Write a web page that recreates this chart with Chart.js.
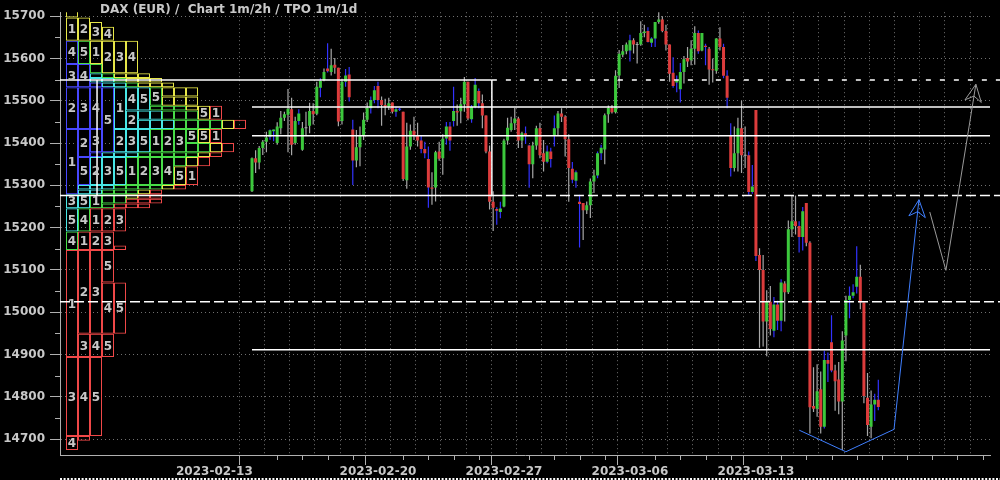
<!DOCTYPE html>
<html>
<head>
<meta charset="utf-8">
<script src="https://cdn.jsdelivr.net/npm/chart.js@4.4.0/dist/chart.umd.min.js"></script>
<style>
  html, body { margin: 0; padding: 0; background: #000; }
  #wrap { width: 1000px; height: 480px; }
</style>
</head>
<body>
<div id="wrap"><canvas id="chart" width="1000" height="480"></canvas></div>
<script>
// DATA
const tradingDays = [
  "2023-02-13", "2023-02-14", "2023-02-15", "2023-02-16", "2023-02-17",
  "2023-02-20", "2023-02-21", "2023-02-22", "2023-02-23", "2023-02-24",
  "2023-02-27", "2023-02-28", "2023-03-01", "2023-03-02", "2023-03-03",
  "2023-03-06", "2023-03-07", "2023-03-08", "2023-03-09", "2023-03-10",
  "2023-03-13", "2023-03-14", "2023-03-15", "2023-03-16", "2023-03-17"
];
const slotsPerDay = 7; // 2h candles, 08:00 - 22:00

const opens = [
  15286, 15364, 15354, 15388, 15403, 15415, 15428,
  15400, 15435, 15460, 15467, 15480, 15400, 15452,
  15384, 15435, 15441, 15476, 15469, 15531, 15549,
  15576, 15568, 15585, 15578, 15452, 15545, 15562,
  15432, 15359, 15390, 15419, 15455, 15482, 15502,
  15535, 15502, 15490, 15486, 15496, 15474, 15480,
  15474, 15312, 15392, 15429, 15419, 15406, 15386,
  15362, 15295, 15295, 15380, 15364, 15411, 15439,
  15452, 15476, 15475, 15492, 15545, 15456, 15486,
  15523, 15494, 15465, 15380, 15261, 15244, 15237,
  15250, 15406, 15431, 15447, 15458, 15406, 15423,
  15394, 15350, 15394, 15435, 15376, 15356, 15380,
  15418, 15435, 15470, 15462, 15409, 15339, 15311,
  15261, 15258, 15241, 15253, 15309, 15323, 15376,
  15385, 15468, 15483, 15473, 15560, 15609, 15617,
  15619, 15643, 15633, 15633, 15660, 15665, 15637,
  15647, 15686, 15692, 15665, 15633, 15566, 15543,
  15527, 15568, 15601, 15596, 15623, 15660, 15619,
  15630, 15623, 15574, 15571, 15647, 15627, 15559,
  15419, 15341, 15376, 15435, 15371, 15371, 15284,
  15478, 15135, 15100, 14978, 15025, 14956, 15018,
  14980, 15068, 15047, 15196, 15215, 15204, 15178,
  15258, 15164, 14778, 14772, 14818, 14729, 14887,
  14929, 14862, 14841, 14789, 14945, 15029, 15039,
  15060, 15084, 15023, 14798, 14729, 14782, 14793
];
const highs = [
  15366, 15383, 15393, 15407, 15427, 15432, 15432,
  15449, 15476, 15474, 15528, 15507, 15462, 15480,
  15450, 15474, 15495, 15494, 15545, 15553, 15576,
  15636, 15623, 15601, 15578, 15552, 15575, 15580,
  15455, 15431, 15439, 15472, 15496, 15510, 15535,
  15545, 15510, 15505, 15507, 15496, 15486, 15483,
  15474, 15448, 15444, 15462, 15448, 15419, 15403,
  15392, 15331, 15382, 15403, 15421, 15450, 15450,
  15533, 15491, 15507, 15556, 15545, 15490, 15554,
  15529, 15515, 15465, 15394, 15286, 15248, 15261,
  15410, 15460, 15462, 15483, 15462, 15427, 15439,
  15396, 15403, 15441, 15448, 15407, 15394, 15389,
  15465, 15476, 15482, 15466, 15421, 15355, 15335,
  15278, 15258, 15262, 15316, 15337, 15380, 15396,
  15470, 15489, 15490, 15572, 15620, 15632, 15638,
  15656, 15648, 15639, 15688, 15680, 15674, 15650,
  15686, 15711, 15700, 15680, 15633, 15603, 15560,
  15589, 15606, 15627, 15643, 15676, 15666, 15660,
  15635, 15627, 15600, 15648, 15674, 15635, 15572,
  15447, 15439, 15460, 15500, 15439, 15380, 15348,
  15478, 15151, 15135, 15052, 15062, 15036, 15027,
  15078, 15073, 15217, 15276, 15276, 15215, 15249,
  15258, 15168, 14870, 14877, 14860, 14909, 14905,
  14993, 14876, 14882, 14955, 15039, 15061, 15066,
  15156, 15112, 15023, 14856, 14815, 14807, 14840
];
const lows = [
  15284, 15329, 15338, 15372, 15378, 15408, 15404,
  15396, 15421, 15452, 15378, 15371, 15396, 15443,
  15382, 15419, 15423, 15444, 15466, 15508, 15546,
  15567, 15560, 15564, 15440, 15444, 15533, 15498,
  15301, 15343, 15345, 15407, 15450, 15470, 15494,
  15482, 15441, 15466, 15478, 15470, 15462, 15476,
  15310, 15292, 15384, 15407, 15392, 15376, 15364,
  15247, 15254, 15262, 15358, 15325, 15396, 15382,
  15439, 15441, 15447, 15474, 15454, 15448, 15482,
  15482, 15435, 15376, 15243, 15192, 15207, 15222,
  15248, 15396, 15427, 15431, 15388, 15388, 15398,
  15294, 15317, 15384, 15364, 15333, 15352, 15342,
  15392, 15419, 15450, 15368, 15261, 15305, 15294,
  15153, 15171, 15232, 15223, 15282, 15317, 15360,
  15350, 15448, 15470, 15470, 15530, 15603, 15610,
  15593, 15612, 15588, 15630, 15650, 15638, 15627,
  15627, 15682, 15662, 15619, 15545, 15531, 15520,
  15496, 15541, 15580, 15584, 15585, 15611, 15617,
  15584, 15538, 15543, 15564, 15619, 15553, 15482,
  15321, 15333, 15333, 15329, 15341, 15278, 15280,
  15121, 14916, 14919, 14896, 14945, 14941, 14958,
  14955, 14978, 15043, 15178, 15184, 15141, 15146,
  15156, 14713, 14764, 14753, 14713, 14725, 14835,
  14858, 14767, 14759, 14674, 14884, 14986, 15033,
  15044, 15007, 14785, 14707, 14702, 14743, 14768
];
const closes = [
  15364, 15354, 15388, 15403, 15413, 15430, 15432,
  15439, 15460, 15468, 15481, 15396, 15452, 15470,
  15435, 15435, 15476, 15468, 15533, 15547, 15568,
  15570, 15584, 15578, 15451, 15545, 15560, 15508,
  15359, 15390, 15419, 15455, 15483, 15502, 15525,
  15502, 15490, 15486, 15494, 15474, 15480, 15479,
  15315, 15392, 15429, 15419, 15406, 15386, 15376,
  15295, 15292, 15378, 15363, 15410, 15439, 15406,
  15476, 15472, 15492, 15545, 15458, 15486, 15538,
  15494, 15465, 15380, 15261, 15247, 15240, 15245,
  15406, 15436, 15447, 15458, 15406, 15423, 15418,
  15350, 15394, 15435, 15371, 15356, 15380, 15362,
  15435, 15470, 15462, 15409, 15341, 15313, 15331,
  15256, 15241, 15253, 15309, 15323, 15376, 15389,
  15466, 15483, 15473, 15559, 15611, 15617, 15633,
  15643, 15633, 15632, 15660, 15664, 15639, 15647,
  15686, 15692, 15665, 15633, 15564, 15535, 15549,
  15568, 15598, 15593, 15623, 15660, 15617, 15660,
  15627, 15574, 15572, 15647, 15627, 15559, 15507,
  15341, 15376, 15435, 15371, 15370, 15284, 15297,
  15133, 15100, 14978, 15025, 14960, 15018, 14980,
  15070, 15047, 15196, 15215, 15204, 15178, 15239,
  15164, 14775, 14772, 14813, 14729, 14887, 14878,
  14862, 14837, 14789, 14933, 15029, 15039, 15047,
  15084, 15023, 14802, 14733, 14782, 14793, 14776
];
// candles whose wick is drawn blue (pre/after hours sessions)
const blueWicks = [5, 6, 13, 19, 21, 26, 27, 28, 33, 34, 35, 40, 41, 47, 48, 49, 54, 55, 56,
  61, 62, 63, 68, 69, 76, 77, 82, 83, 84, 89, 90, 91, 96, 97, 105, 110, 111, 112, 117, 118,
  119, 124, 126, 131, 132, 133, 138, 139, 140, 145, 146, 147, 152, 153, 159, 160, 161, 166,
  167, 168, 173, 174];

const yTicks = [14700, 14800, 14900, 15000, 15100, 15200, 15300, 15400, 15500, 15600, 15700];

// value area box and other price levels
const vaHigh = 15549;
const vaLow = 15276;
const vaDays = [-6.15, 9.52, 10]; // box left, box right, low line end
const levelsFromStart = [15485, 15417, 14911];
const levelMid = 15025;

// projection paths [day, price]
const bluePath = [[21.72, 14721], [23.57, 14670], [25.48, 14723], [26.47, 15266]];
const grayPath = [[26.90, 15237], [27.54, 15099], [28.73, 15539]];

// SCALES
const X_MIN = -7.62, X_MAX = 29.29, X_EDGE = 29.7;
const Y_MIN = 14662.35, Y_MAX = 15709.4;
const TPO_STEP = 11;

const GREEN = "#3cc83c", RED = "#dc3c3c";
const WICK_GRAY = "#a8a8a8", WICK_BLUE = "#3232ff";
const WEEK_COLORS = ["#4848ff", "#48e6e6", "#48dc48", "#e6e648", "#f04848"];
const AXIS = "#b0b0b0", TEXT = "#c8c8c8";

const candleX = opens.map((_, i) => Math.floor(i / slotsPerDay) + (i % slotsPerDay) / slotsPerDay);
const wickColor = i => blueWicks.includes(i) ? WICK_BLUE : WICK_GRAY;

// TPO profile built from daily ranges
const dayHigh = tradingDays.map((_, d) => Math.max(...highs.slice(d * slotsPerDay, (d + 1) * slotsPerDay)));
const dayLow = tradingDays.map((_, d) => Math.min(...lows.slice(d * slotsPerDay, (d + 1) * slotsPerDay)));
const tpoRuns = [];
(function buildTpo() {
  const bMin = Math.floor(Math.min(...dayLow) / TPO_STEP);
  const bMax = Math.floor(Math.max(...dayHigh) / TPO_STEP);
  let open = {};
  for (let b = bMin; b <= bMax; b++) {
    const lo = b * TPO_STEP, hi = lo + TPO_STEP;
    const next = {};
    let col = 0;
    for (let d = 0; d < tradingDays.length; d++) {
      if (dayLow[d] >= hi || dayHigh[d] < lo) continue;
      const prev = open[col];
      if (prev && prev.day === d) {
        prev.y[1] = hi;
        prev.n++;
        next[col] = prev;
      } else {
        const run = { x: col + 0.5, y: [lo, hi], day: d, n: 1 };
        tpoRuns.push(run);
        next[col] = run;
      }
      col++;
    }
    open = next;
  }
})();

const line = (pts, color, dash, order) => ({
  type: "line",
  data: pts.map(p => ({ x: p[0], y: p[1] })),
  borderColor: color,
  borderWidth: 1.5,
  borderDash: dash || [],
  pointRadius: 0,
  fill: false,
  tension: 0,
  clip: false,
  order: order === undefined ? 1 : order
});

const levelSets = [
  line([[X_MIN, vaHigh], [vaDays[1], vaHigh]], "#ffffff"),
  line([[vaDays[1], vaHigh], [X_EDGE, vaHigh]], "#ffffff", [5, 9]),
  line([[X_MIN, vaLow], [vaDays[2], vaLow]], "#ffffff"),
  line([[vaDays[2], vaLow], [X_EDGE, vaLow]], "#ffffff", [10, 4]),
  line([[vaDays[0], vaLow], [vaDays[0], vaHigh]], "#ffffff"),
  line([[vaDays[1], vaLow], [vaDays[1], vaHigh]], "#ffffff"),
  line([[X_MIN, levelMid], [X_EDGE, levelMid]], "#ffffff", [10, 4])
].concat(levelsFromStart.map(v => line([[0, v], [X_MAX, v]], "#ffffff")));

const blueSet = line(bluePath, "#3f7fff", null, 0);
blueSet.borderWidth = 1;
blueSet.arrowHead = true;
const graySet = line(grayPath, "#9a9a9a", null, 0);
graySet.borderWidth = 1;
graySet.arrowHead = true;

// PLUGINS
const titlePlugin = {
  id: "title",
  afterDraw(chart) {
    const { ctx, chartArea, width } = chart;
    ctx.save();
    ctx.font = "bold 12px 'DejaVu Sans'";
    ctx.fillStyle = TEXT;
    ctx.textBaseline = "middle";
    ctx.fillText("DAX (EUR) /  Chart 1m/2h / TPO 1m/1d", 100, 10);
    // dotted strip along the bottom edge
    ctx.strokeStyle = "#ffffff";
    ctx.lineWidth = 2;
    ctx.setLineDash([2, 1.6]);
    ctx.beginPath();
    ctx.moveTo(chartArea.left, chart.height - 1);
    ctx.lineTo(width, chart.height - 1);
    ctx.stroke();
    ctx.restore();
  }
};

const tpoLabels = {
  id: "tpoLabels",
  afterDatasetsDraw(chart) {
    const { ctx, scales: { xp, y } } = chart;
    ctx.save();
    ctx.font = "bold 12px 'DejaVu Sans'";
    ctx.fillStyle = TEXT;
    ctx.textAlign = "center";
    ctx.textBaseline = "middle";
    tpoRuns.forEach(r => {
      if (r.n < 3) return;
      ctx.fillText(String(r.day % 5 + 1), xp.getPixelForValue(r.x), y.getPixelForValue((r.y[0] + r.y[1]) / 2) + 1);
    });
    ctx.restore();
  }
};

const minorTicks = {
  id: "minorTicks",
  afterDraw(chart) {
    const { ctx, chartArea, scales: { x, y } } = chart;
    ctx.save();
    ctx.strokeStyle = AXIS;
    ctx.lineWidth = 1;
    ctx.beginPath();
    yTicks.slice(0, -1).forEach(v => {
      const py = Math.round(y.getPixelForValue(v + 50)) + 0.5;
      ctx.moveTo(chartArea.left - 5, py);
      ctx.lineTo(chartArea.left, py);
    });
    x.ticks.forEach(t => {
      if (t.value % 5 === 0 && t.value < tradingDays.length) return;
      const px = Math.round(x.getPixelForValue(t.value)) + 0.5;
      ctx.moveTo(px, chartArea.bottom);
      ctx.lineTo(px, chartArea.bottom + 5);
    });
    ctx.stroke();
    ctx.restore();
  }
};

const arrowHeads = {
  id: "arrowHeads",
  afterDatasetsDraw(chart) {
    const ctx = chart.ctx;
    chart.data.datasets.forEach((ds, i) => {
      if (!ds.arrowHead) return;
      const pts = chart.getDatasetMeta(i).data;
      const tip = pts[pts.length - 1], from = pts[pts.length - 2];
      const ang = Math.atan2(tip.y - from.y, tip.x - from.x);
      const len = 19, spread = 0.45, notch = 12;
      ctx.save();
      ctx.strokeStyle = ds.borderColor;
      ctx.lineWidth = 1;
      ctx.beginPath();
      ctx.moveTo(tip.x - len * Math.cos(ang - spread), tip.y - len * Math.sin(ang - spread));
      ctx.lineTo(tip.x, tip.y);
      ctx.lineTo(tip.x - len * Math.cos(ang + spread), tip.y - len * Math.sin(ang + spread));
      ctx.lineTo(tip.x - notch * Math.cos(ang), tip.y - notch * Math.sin(ang));
      ctx.closePath();
      ctx.stroke();
      ctx.restore();
    });
  }
};

Chart.defaults.font.family = "'DejaVu Sans'";
Chart.defaults.font.weight = "bold";
Chart.defaults.font.size = 12;
Chart.defaults.color = TEXT;

const isLabelTick = v => v % 5 === 0 && v >= 0 && v < tradingDays.length;

new Chart(document.getElementById("chart"), {
  type: "bar",
  data: {
    datasets: [
      {
        label: "TPO",
        xAxisID: "xp",
        data: tpoRuns,
        backgroundColor: "rgba(0,0,0,0)",
        borderColor: c => c.raw ? WEEK_COLORS[Math.floor(c.raw.day / 5)] : WEEK_COLORS[0],
        borderWidth: 1,
        borderSkipped: false,
        barThickness: 12,
        grouped: false,
        inflateAmount: 0,
        order: 5
      },
      {
        label: "wicks",
        data: lows.map((l, i) => ({ x: candleX[i], y: [l, highs[i]] })),
        backgroundColor: c => c.dataIndex === undefined ? WICK_GRAY : wickColor(c.dataIndex),
        barThickness: 1.2,
        grouped: false,
        inflateAmount: 0,
        order: 3
      },
      {
        label: "bodies",
        data: opens.map((o, i) => ({ x: candleX[i], y: [o, closes[i]] })),
        backgroundColor: c => {
          const i = c.dataIndex;
          if (i === undefined) return GREEN;
          if (Math.abs(opens[i] - closes[i]) < 2) return wickColor(i);
          return closes[i] > opens[i] ? GREEN : RED;
        },
        barThickness: 3,
        minBarLength: 1,
        grouped: false,
        inflateAmount: 0,
        order: 2
      }
    ].concat(levelSets, [blueSet, graySet])
  },
  options: {
    responsive: false,
    animation: false,
    devicePixelRatio: 1,
    events: [],
    layout: { padding: { top: 10, right: 10, left: 0, bottom: 0 } },
    plugins: { legend: { display: false }, tooltip: { enabled: false } },
    scales: {
      x: {
        type: "linear",
        min: X_MIN,
        max: X_MAX,
        offset: false,
        afterBuildTicks: s => {
          const t = [];
          for (let d = 0; d <= Math.floor(X_MAX); d++) t.push({ value: d });
          s.ticks = t;
        },
        afterFit: s => { s.height = 25; },
        grid: {
          color: "#707070",
          tickLength: 10,
          tickColor: c => c.tick && isLabelTick(c.tick.value) ? AXIS : "rgba(0,0,0,0)"
        },
        border: { color: AXIS, width: 1, dash: [1, 3] },
        ticks: {
          autoSkip: false,
          maxRotation: 0,
          minRotation: 0,
          padding: 0,
          color: TEXT,
          callback: v => {
            if (!isLabelTick(v)) return "";
            return v === 0 ? tradingDays[v] + " ".repeat(18) : tradingDays[v];
          }
        }
      },
      xp: { type: "linear", display: false, min: -0.5, max: 77, offset: false },
      y: {
        type: "linear",
        position: "left",
        min: Y_MIN,
        max: Y_MAX,
        afterBuildTicks: s => { s.ticks = yTicks.map(v => ({ value: v })); },
        afterFit: s => { s.width = 60; },
        grid: { color: "#707070", tickLength: 10, tickColor: AXIS },
        border: { color: AXIS, width: 1, dash: [1, 3] },
        ticks: { padding: 5, color: TEXT, callback: v => String(v) }
      }
    }
  },
  plugins: [tpoLabels, arrowHeads, minorTicks, titlePlugin]
});
</script>
</body>
</html>
